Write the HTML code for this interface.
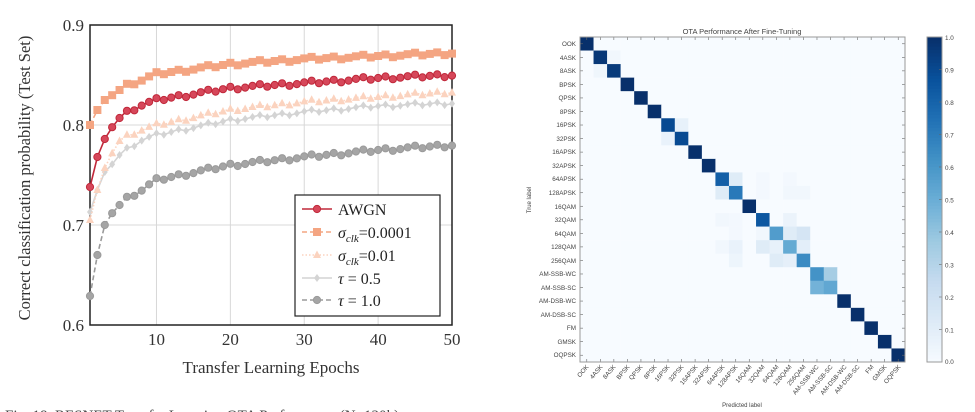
<!DOCTYPE html>
<html><head><meta charset="utf-8"><style>
html,body{margin:0;padding:0;background:#fff;width:975px;height:412px;overflow:hidden}
svg{display:block}
.s{font-family:"Liberation Serif",serif}
.m{font-family:"Liberation Sans",sans-serif;fill:#444}
</style></head><body>
<svg id="c" width="975" height="412" viewBox="0 0 975 412" xmlns="http://www.w3.org/2000/svg">
<g id="grid" stroke="#d8d8d8" stroke-width="1"></g>
<rect x="90" y="25" width="362" height="300" fill="none" stroke="#222" stroke-width="1.5"/>
<g class="s" font-size="17" fill="#333" text-anchor="end">
<text x="84" y="31">0.9</text><text x="84" y="131">0.8</text><text x="84" y="231">0.7</text><text x="84" y="331">0.6</text>
</g>
<g class="s" font-size="17" fill="#333" text-anchor="middle">
<text x="156.5" y="345">10</text><text x="230.4" y="345">20</text><text x="304.3" y="345">30</text><text x="378.2" y="345">40</text><text x="452" y="345">50</text>
<text x="271" y="373">Transfer Learning Epochs</text>
<text transform="translate(30,178) rotate(-90)" font-size="16.5">Correct classification probability (Test Set)</text>
</g>
<g id="series"></g>
<rect x="295" y="195" width="145" height="121" fill="#fff" stroke="#222" stroke-width="1.2"/>
<g id="leg"></g>
<g class="s" font-size="16" fill="#222">
<text x="338" y="215">AWGN</text>
<text x="338" y="238"><tspan font-style="italic">σ</tspan><tspan font-style="italic" font-size="11" dy="4">clk</tspan><tspan dy="-4">=0.0001</tspan></text>
<text x="338" y="261"><tspan font-style="italic">σ</tspan><tspan font-style="italic" font-size="11" dy="4">clk</tspan><tspan dy="-4">=0.01</tspan></text>
<text x="338" y="284"><tspan font-style="italic">τ</tspan> = 0.5</text>
<text x="338" y="306"><tspan font-style="italic">τ</tspan> = 1.0</text>
</g>
<text class="s" x="5" y="420" font-size="15" fill="#444">Fig. 18.   RESNET Transfer Learning OTA Performance (N=120k)</text>

<g id="mat"></g>
<rect x="580" y="37" width="325" height="325" fill="none" stroke="#999" stroke-width="1"/>
<g id="cbar"></g>
<rect x="927" y="37" width="15" height="325" fill="none" stroke="#999"/>
<text class="m" x="742" y="34" font-size="7.5" text-anchor="middle">OTA Performance After Fine-Tuning</text>
<text class="m" x="742" y="407" font-size="6" text-anchor="middle">Predicted label</text>
<text class="m" transform="translate(531,200) rotate(-90)" font-size="6" text-anchor="middle">True label</text>
<g class="m" font-size="6.3" text-anchor="start">
<text x="945" y="40">1.0</text><text x="945" y="72.5">0.9</text><text x="945" y="105">0.8</text><text x="945" y="137.5">0.7</text><text x="945" y="170">0.6</text><text x="945" y="202.5">0.5</text><text x="945" y="235">0.4</text><text x="945" y="267.5">0.3</text><text x="945" y="300">0.2</text><text x="945" y="332.5">0.1</text><text x="945" y="364">0.0</text>
</g>
<g id="ylab" class="m" font-size="6.3" text-anchor="end">
<text x="576" y="46">OOK</text><text x="576" y="60">4ASK</text><text x="576" y="73">8ASK</text><text x="576" y="87">BPSK</text><text x="576" y="100">QPSK</text><text x="576" y="114">8PSK</text><text x="576" y="127">16PSK</text><text x="576" y="141">32PSK</text><text x="576" y="154">16APSK</text><text x="576" y="168">32APSK</text><text x="576" y="181">64APSK</text><text x="576" y="195">128APSK</text><text x="576" y="209">16QAM</text><text x="576" y="222">32QAM</text><text x="576" y="236">64QAM</text><text x="576" y="249">128QAM</text><text x="576" y="263">256QAM</text><text x="576" y="276">AM-SSB-WC</text><text x="576" y="290">AM-SSB-SC</text><text x="576" y="303">AM-DSB-WC</text><text x="576" y="317">AM-DSB-SC</text><text x="576" y="330">FM</text><text x="576" y="344">GMSK</text><text x="576" y="357">OQPSK</text>
</g>
<g id="xlab" class="m" font-size="6.3" text-anchor="end">
<text transform="translate(589,367) rotate(-50)">OOK</text><text transform="translate(603,367) rotate(-50)">4ASK</text><text transform="translate(616,367) rotate(-50)">8ASK</text><text transform="translate(630,367) rotate(-50)">BPSK</text><text transform="translate(643,367) rotate(-50)">QPSK</text><text transform="translate(657,367) rotate(-50)">8PSK</text><text transform="translate(670,367) rotate(-50)">16PSK</text><text transform="translate(684,367) rotate(-50)">32PSK</text><text transform="translate(698,367) rotate(-50)">16APSK</text><text transform="translate(711,367) rotate(-50)">32APSK</text><text transform="translate(725,367) rotate(-50)">64APSK</text><text transform="translate(738,367) rotate(-50)">128APSK</text><text transform="translate(752,367) rotate(-50)">16QAM</text><text transform="translate(765,367) rotate(-50)">32QAM</text><text transform="translate(779,367) rotate(-50)">64QAM</text><text transform="translate(792,367) rotate(-50)">128QAM</text><text transform="translate(806,367) rotate(-50)">256QAM</text><text transform="translate(819,367) rotate(-50)">AM-SSB-WC</text><text transform="translate(833,367) rotate(-50)">AM-SSB-SC</text><text transform="translate(847,367) rotate(-50)">AM-DSB-WC</text><text transform="translate(860,367) rotate(-50)">AM-DSB-SC</text><text transform="translate(874,367) rotate(-50)">FM</text><text transform="translate(887,367) rotate(-50)">GMSK</text><text transform="translate(901,367) rotate(-50)">OQPSK</text>
</g>
</svg>
<script>
var NS="http://www.w3.org/2000/svg";
function el(p,t,a){var e=document.createElementNS(NS,t);for(var k in a)e.setAttribute(k,a[k]);p.appendChild(e);return e;}
var g=document.getElementById('grid');
[10,20,30,40].forEach(function(e){var x=90+(e-1)*362/49;el(g,'line',{x1:x,x2:x,y1:25,y2:325});});
[0.7,0.8].forEach(function(v){var y=325-(v-0.6)*1000;el(g,'line',{x1:90,x2:452,y1:y,y2:y});});
function X(e){return 90+(e-1)*362/49;} function Y(v){return 325-(v-0.6)*1000;}
function interp(k,e){for(var i=0;i<k.length-1;i++){if(e<=k[i+1][0]){var t=(e-k[i][0])/(k[i+1][0]-k[i][0]);return k[i][1]+t*(k[i+1][1]-k[i][1]);}}return k[k.length-1][1];}
var S=[
{k:[[1,.629],[2,.67],[3,.70],[4,.713],[5,.72],[6,.727],[8,.735],[10,.745],[20,.76],[30,.768],[40,.775],[50,.78]],c:'#9a9a9a',f:'#a5a5a5',m:'c',d:'5,3'},
{k:[[1,.713],[2,.735],[3,.753],[4,.762],[5,.77],[6,.776],[8,.785],[10,.79],[20,.805],[30,.813],[40,.819],[50,.822]],c:'#d4d4d4',f:'#d4d4d4',m:'d',d:''},
{k:[[1,.705],[2,.735],[3,.757],[4,.773],[5,.784],[6,.789],[8,.795],[10,.80],[20,.815],[30,.823],[40,.828],[50,.833]],c:'#fbd3bf',f:'#fbd3bf',m:'t',d:'1.5,2'},
{k:[[1,.80],[2,.815],[3,.825],[4,.831],[5,.835],[6,.84],[8,.845],[10,.851],[20,.861],[30,.866],[40,.869],[50,.872]],c:'#f4a582',f:'#f4a582',m:'s',d:'5,3'},
{k:[[1,.738],[2,.768],[3,.786],[4,.799],[5,.807],[6,.813],[8,.82],[10,.825],[20,.837],[30,.842],[40,.847],[50,.85]],c:'#c0283a',f:'#d6475a',m:'c',d:''}];
function mk(p,s,x,y){if(s.m=='c')el(p,'circle',{cx:x,cy:y,r:3.6,fill:s.f,stroke:s.c,'stroke-width':1});
else if(s.m=='s')el(p,'rect',{x:x-3.5,y:y-3.5,width:7,height:7,fill:s.f,stroke:s.c});
else if(s.m=='t')el(p,'polygon',{points:(x)+','+(y-4.5)+' '+(x-4)+','+(y+3)+' '+(x+4)+','+(y+3),fill:s.f});
else el(p,'polygon',{points:x+','+(y-4)+' '+(x+3)+','+y+' '+x+','+(y+4)+' '+(x-3)+','+y,fill:s.f});}
var sg=document.getElementById('series');
S.forEach(function(s){var pts=[];for(var e=1;e<=50;e++){var w=((e*37)%7-3)*0.0006;var v=interp(s.k,e)+(e>3?w:0);pts.push([X(e),Y(v)]);}
el(sg,'polyline',{points:pts.map(function(p){return p.join(',')}).join(' '),fill:'none',stroke:s.c,'stroke-width':1.6,'stroke-dasharray':s.d});
pts.forEach(function(p){mk(sg,s,p[0],p[1]);});});
var lg=document.getElementById('leg');var ly=[209,232,255,278,300];var order=[4,3,2,1,0];
order.forEach(function(i,j){var s=S[i];el(lg,'line',{x1:302,x2:332,y1:ly[j],y2:ly[j],stroke:s.c,'stroke-width':1.6,'stroke-dasharray':s.d});mk(lg,s,317,ly[j]);});
var B=[[247,251,255],[222,235,247],[198,219,239],[158,202,225],[107,174,214],[66,146,198],[33,113,181],[8,81,156],[8,48,107]];
function blue(v){v=Math.max(0,Math.min(1,v));var f=v*8,i=Math.min(7,Math.floor(f)),t=f-i;var a=B[i],b=B[i+1];return 'rgb('+a.map(function(c,k){return Math.round(c+t*(b[k]-c))}).join(',')+')';}
var N=24,cs=325/24,M=[];for(var r=0;r<N;r++){M.push([]);for(var c=0;c<N;c++)M[r].push(r==c?1:0);}
function s(r,c,v){M[r][c]=v;}
s(1,1,.97);s(1,2,.03);s(2,1,.04);s(2,2,.96);s(6,6,.9);s(6,7,.08);s(7,6,.07);s(7,7,.9);
s(10,10,.82);s(10,11,.12);s(10,13,.02);s(10,15,.02);s(11,10,.12);s(11,11,.72);s(11,13,.02);s(11,15,.03);s(11,16,.03);
s(13,10,.03);s(13,11,.02);s(13,13,.85);s(13,15,.06);s(14,11,.02);s(14,13,.03);s(14,14,.58);s(14,15,.12);s(14,16,.17);
s(15,10,.03);s(15,11,.07);s(15,13,.12);s(15,14,.08);s(15,15,.52);s(15,16,.1);s(16,11,.05);s(16,14,.12);s(16,15,.09);s(16,16,.65);
s(17,17,.62);s(17,18,.35);s(18,17,.48);s(18,18,.53);
var mg=document.getElementById('mat');
for(var r=0;r<N;r++)for(var c=0;c<N;c++)el(mg,'rect',{x:580+c*cs,y:37+r*cs,width:cs+0.3,height:cs+0.3,fill:blue(M[r][c])});
for(var i=0;i<N;i++){var p=580+(i+.5)*cs;el(mg,'line',{x1:p,x2:p,y1:362,y2:359,stroke:'#666','stroke-width':.6});el(mg,'line',{x1:p,x2:p,y1:37,y2:40,stroke:'#666','stroke-width':.6});
var q=37+(i+.5)*cs;el(mg,'line',{x1:580,x2:583,y1:q,y2:q,stroke:'#666','stroke-width':.6});el(mg,'line',{x1:905,x2:902,y1:q,y2:q,stroke:'#666','stroke-width':.6});}
var cb=document.getElementById('cbar');
for(var i=0;i<100;i++){el(cb,'rect',{x:927,y:37+i*3.25,width:15,height:3.5,fill:blue(1-i/100)});}
for(var i=0;i<=10;i++){var y=362-i*32.5;el(cb,'line',{x1:939,x2:942,y1:y,y2:y,stroke:'#666','stroke-width':.6});}
</script>
</body></html>
